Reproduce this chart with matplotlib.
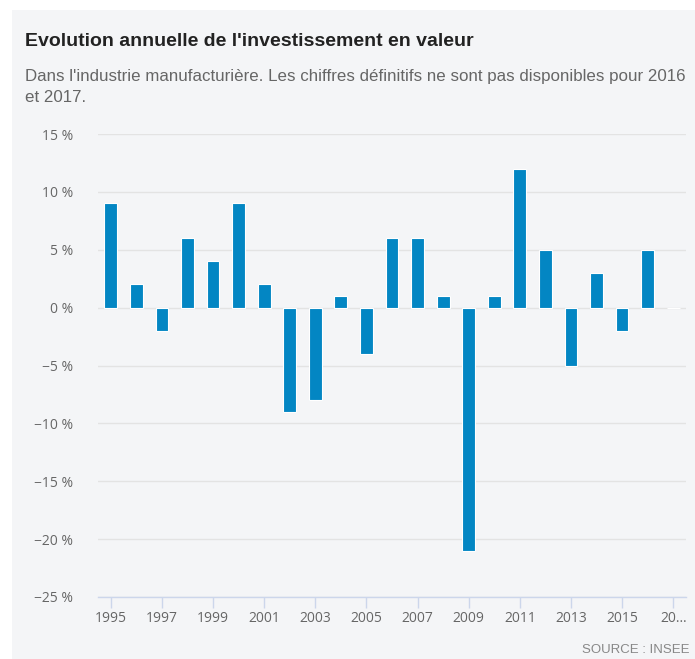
import numpy as np
import matplotlib.pyplot as plt
from matplotlib.patches import Rectangle

# Annual change of investment value (%), manufacturing industry
years = list(range(1995, 2018))
values = [9, 2, -2, 6, 4, 9, 2, -9, -8, 1, -4, 6, 6, 1, -21, 1, 12, 5, -5, 3, -2, 5, None]
tick_years = list(range(1995, 2018, 2))
tick_labels = [str(y) for y in tick_years[:-1]] + ["20…"]
y_ticks = [15, 10, 5, 0, -5, -10, -15, -20, -25]

W, H = 695, 659
fig = plt.figure(figsize=(W / 100, H / 100), dpi=100)
fig.patch.set_facecolor("white")

# light grey card behind the chart
fig.patches.append(Rectangle((12 / W, 0), 1 - 12 / W, 1 - 10 / H,
                             transform=fig.transFigure, facecolor="#f4f5f7",
                             edgecolor="none", zorder=-1))

ax = fig.add_axes([98 / W, 1 - 597 / H, (686 - 98) / W, (597 - 134) / H])
ax.set_facecolor("none")
ax.set_zorder(1)

x = np.arange(len(years))
bar_vals = [v if v is not None else 0 for v in values]
ax.bar(x, bar_vals, width=0.5, color="#0386c3", edgecolor="white", linewidth=0.8, zorder=3)

ax.set_xlim(-0.5, len(years) - 0.5)
ax.set_ylim(-25, 15)
ax.set_yticks(y_ticks)
ax.set_yticklabels([f"{v} %".replace("-", "\u2212") for v in y_ticks],
                   fontsize=10, color="#666666", family="Open Sans")
ax.yaxis.grid(True, color="#e3e3e3", linewidth=1, zorder=0)
ax.tick_params(axis="y", length=0, pad=18)

ax.set_xticks([years.index(y) for y in tick_years])
ax.set_xticklabels(tick_labels, fontsize=10, color="#666666", family="Open Sans")
ax.tick_params(axis="x", length=8, color="#ccd6eb", width=1, pad=2)

for s in ["top", "right", "left"]:
    ax.spines[s].set_visible(False)
ax.spines["bottom"].set_color("#ccd6eb")
ax.spines["bottom"].set_linewidth(1)

fig.text(25 / W, 1 - 42 / H, "Evolution annuelle de l'investissement en valeur",
         fontsize=14, fontweight="bold", color="#222222", family="Liberation Sans",
         va="center", ha="left")
fig.text(25 / W, 1 - 77 / H,
         "Dans l'industrie manufacturière. Les chiffres définitifs ne sont pas disponibles pour 2016",
         fontsize=12.2, color="#666666", family="Liberation Sans", va="center", ha="left")
fig.text(25 / W, 1 - 98 / H, "et 2017.",
         fontsize=12.2, color="#666666", family="Liberation Sans", va="center", ha="left")
fig.text(690 / W, 1 - 650 / H, "SOURCE : INSEE",
         fontsize=9.5, color="#888888", family="Liberation Sans", va="center", ha="right")

fig.savefig("out.png", dpi=100)
